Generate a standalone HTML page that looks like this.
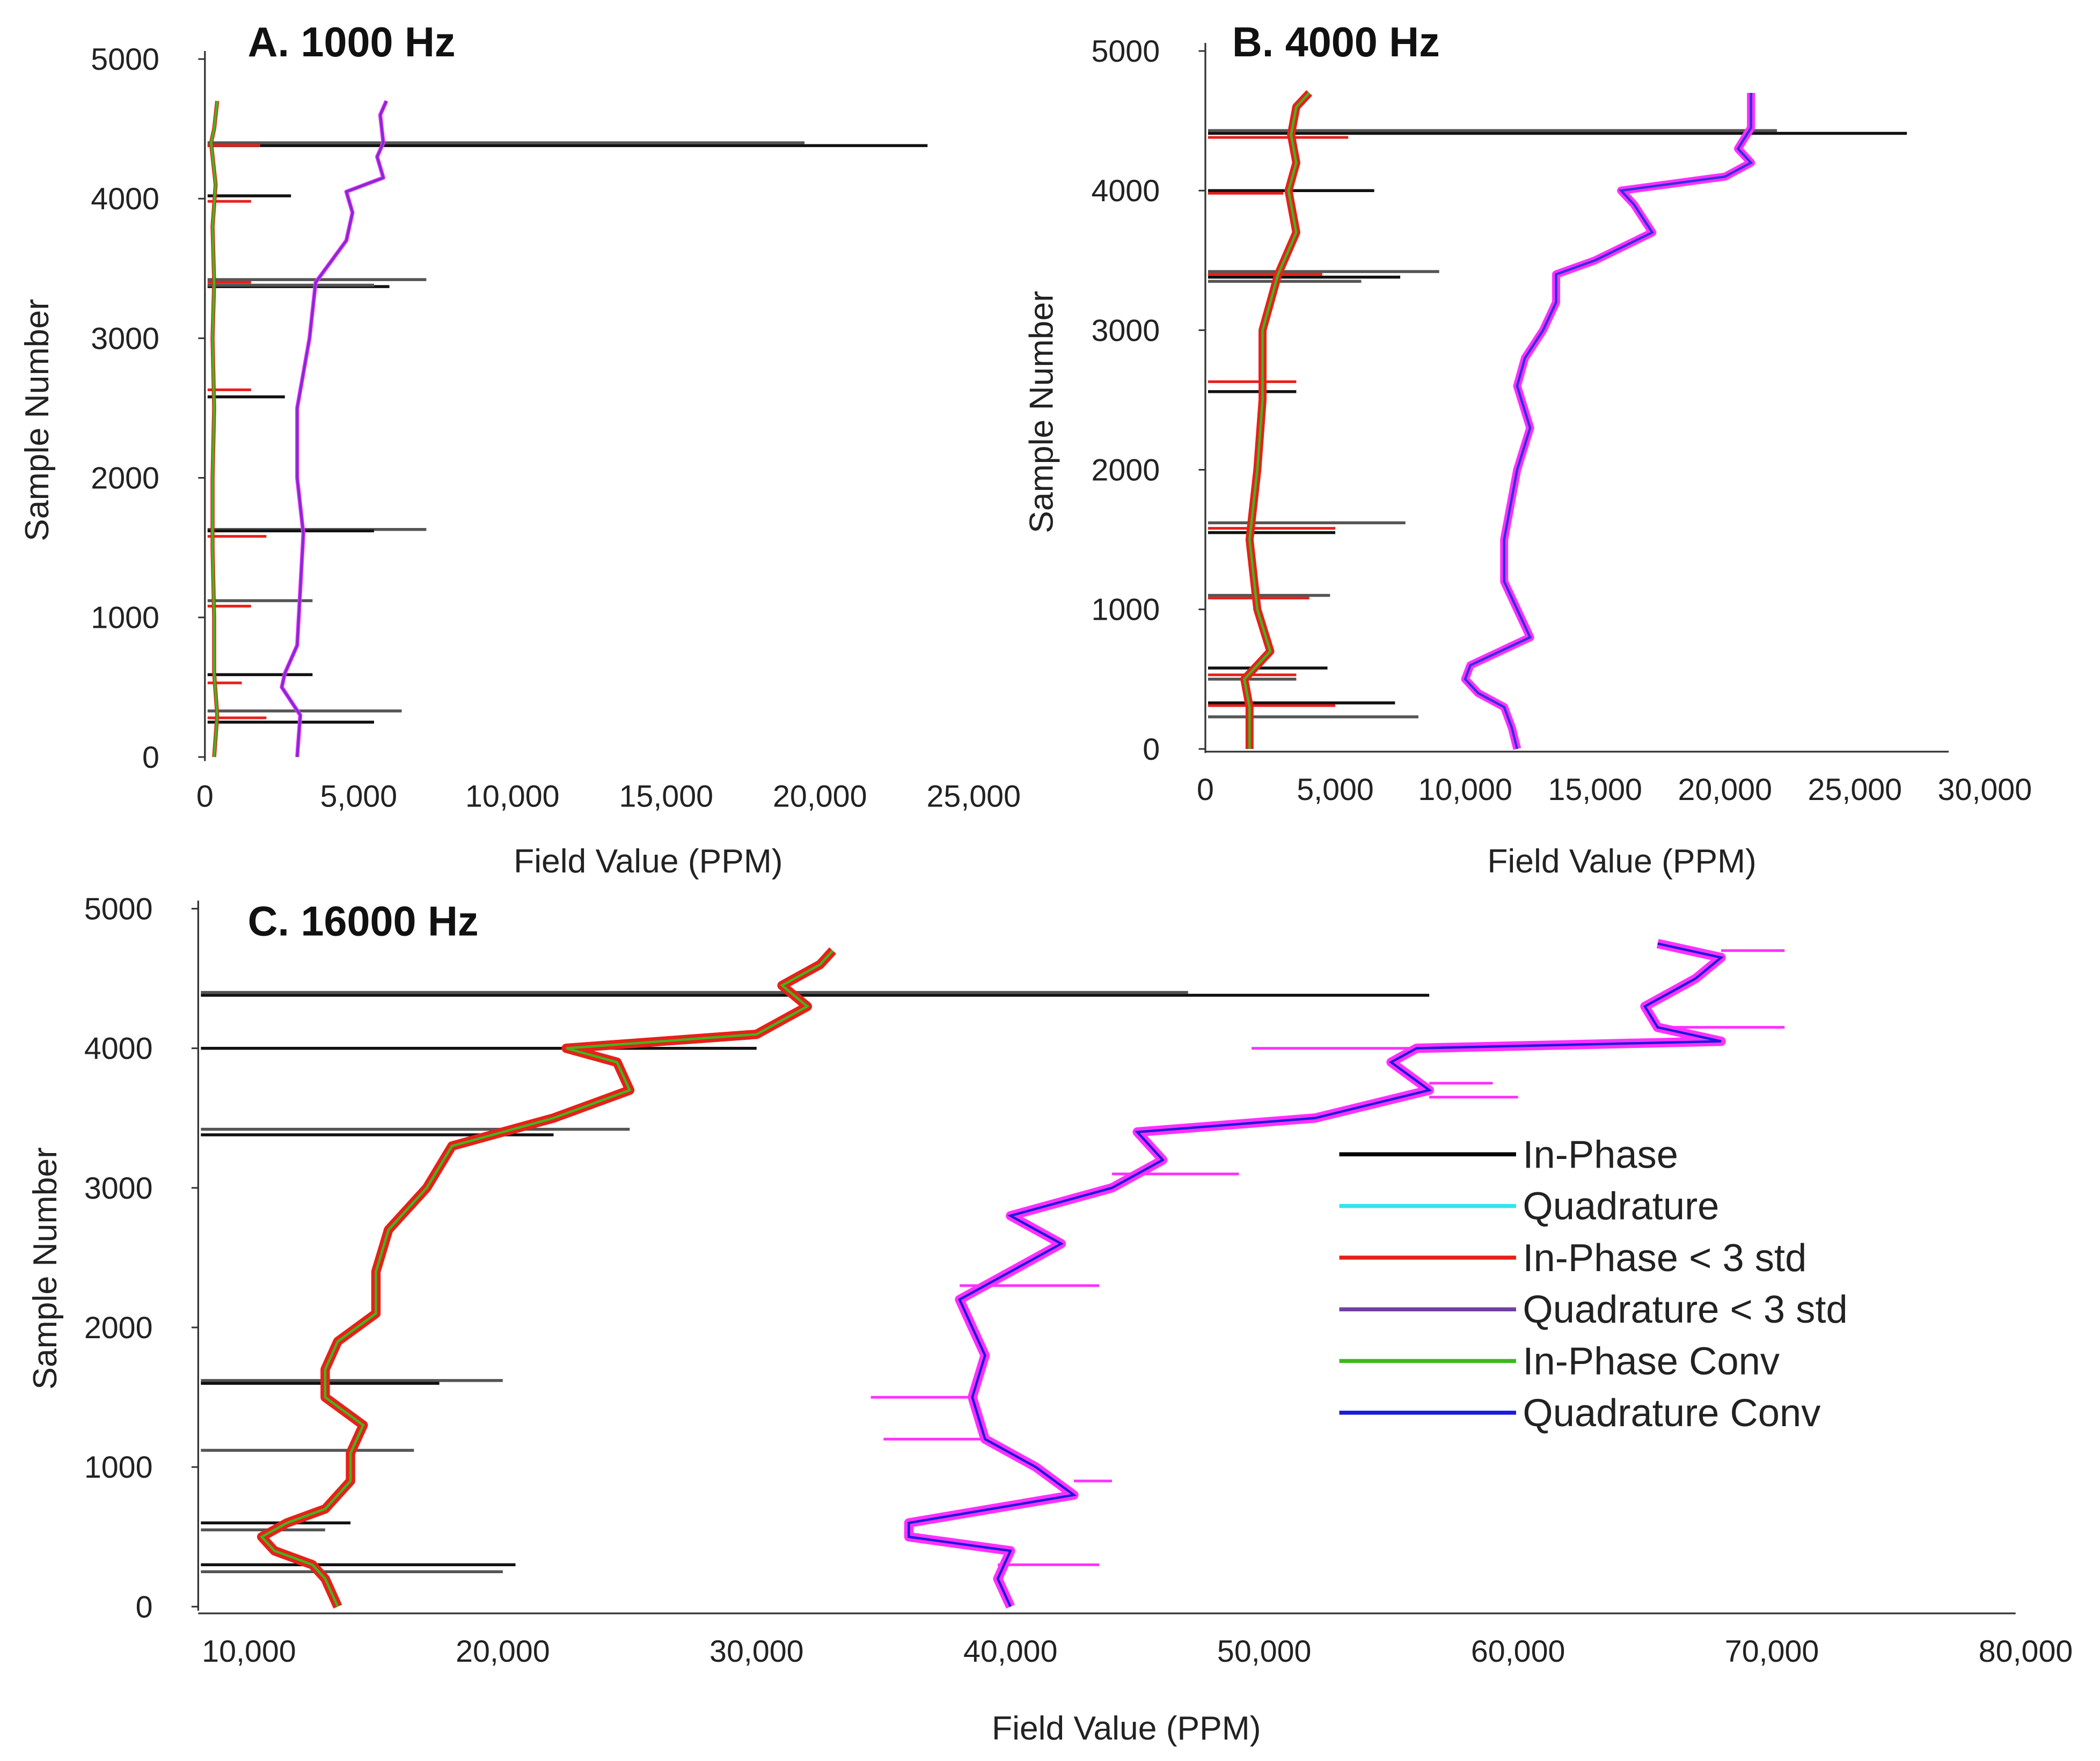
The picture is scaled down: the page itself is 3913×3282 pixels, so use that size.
<!DOCTYPE html>
<html><head><meta charset="utf-8"><style>
html,body{margin:0;padding:0;background:#fff;}
svg{display:block;font-family:"Liberation Sans",sans-serif;}
</style></head><body>
<svg id="chart" width="3913" height="3282" viewBox="0 0 1568 1312" preserveAspectRatio="none" xmlns="http://www.w3.org/2000/svg"></svg>
<script>
// ---- Panel A data (sample number, field value) ----
const aQuadSamples=[0,300,500,600,800,1200,1600,2000,2500,3000,3400,3700,3900,4050,4150,4300,4400,4600,4700];
const aQuadValues=[3000,3100,2500,2600,3000,3100,3200,3000,3000,3400,3600,4600,4800,4600,5800,5600,5800,5700,5900];
const aInSamples=[0,300,600,1000,1500,2000,2500,3000,3400,3800,4100,4400,4500,4700];
const aInValues=[300,400,300,300,250,250,300,250,300,250,350,200,300,400];
const aSpikeSamples=[4380,4400,4020,3420,3370,3380,2580,1630,1620,1120,590,330,250];
const aSpikeValues=[23500,19500,2800,7200,6000,5500,2600,7200,5500,3500,3500,6400,5500];
const aRedSamples=[4400,4000,3420,2650,1600,1100,550,300];
const aRedValues=[1800,1500,1500,1500,2000,1500,1200,2000];
const aXTicks=[0,5000,10000,15000,20000,25000];
// ---- Panel B data ----
const bQuadSamples=[0,150,300,400,500,600,800,1000,1200,1500,1800,2000,2300,2600,2800,3000,3200,3400,3500,3700,3900,4000,4100,4200,4300,4450,4600,4700];
const bQuadValues=[12000,11800,11500,10500,10000,10200,12500,12000,11500,11500,11800,12000,12500,12000,12300,13000,13500,13500,15000,17200,16500,16000,20000,21000,20500,21000,21000,21000];
const bInSamples=[0,300,500,700,1000,1500,2000,2500,3000,3400,3700,4000,4200,4400,4600,4700];
const bInValues=[1700,1700,1500,2500,2000,1700,2000,2200,2200,2800,3500,3200,3500,3300,3500,4000];
const bSpikeSamples=[4410,4430,4000,3420,3380,3350,2560,1620,1550,1100,580,500,330,230];
const bSpikeValues=[27000,22000,6500,9000,7500,6000,3500,7700,5000,4800,4700,3500,7300,8200];
const bRedSamples=[4400,4000,3420,2650,1600,1100,550,330];
const bRedValues=[5500,3000,4500,3500,5000,4000,3500,5000];
const bXTicks=[0,5000,10000,15000,20000,25000,30000];
// ---- Panel C data ----
const cInSamples=[0,200,300,400,500,600,700,900,1100,1300,1500,1700,1900,2100,2400,2700,3000,3300,3500,3700,3900,4000,4100,4300,4450,4600,4700];
const cInValues=[13500,13000,12500,11000,10500,11500,13000,14000,14000,14500,13000,13000,13500,15000,15000,15500,17000,18000,22000,25000,24500,22500,30000,32000,31000,32500,33000];
const cQuadSamples=[0,200,400,500,600,800,1000,1200,1500,1800,2000,2200,2400,2600,2800,3000,3200,3400,3500,3700,3900,4000,4050,4150,4300,4400,4500,4650,4750];
const cQuadValues=[40000,39500,40000,36000,36000,42500,41000,39000,38500,39000,38500,38000,40000,42000,40000,44000,46000,45000,52000,56500,55000,56000,68000,65500,65000,66000,67000,68000,65500];
const cSpikeSamples=[4380,4400,4000,3420,3380,1620,1600,1120,600,550,300,250];
const cSpikeValues=[56500,47000,30000,25000,22000,20000,17500,16500,14000,13000,20500,20000];
const cMagSamples=[4700,4150,4000,3750,3650,3100,2300,1500,1200,900,300];
const cMagValues=[70500,70500,49500,59000,60000,49000,43500,34500,35000,44000,43500];
const cXTicks=[10000,20000,30000,40000,50000,60000,70000,80000];
const yTicks=[0,1000,2000,3000,4000,5000];
const legendLabels=["In-Phase","Quadrature","In-Phase < 3 std","Quadrature < 3 std","In-Phase Conv","Quadrature Conv"];
const legendColors=["#000","#2ee6f0","#e8201a","#7040a0","#3cb81c","#1a1adc"];

const svg=document.getElementById('chart');
const NS='http://www.w3.org/2000/svg';
function el(tag,attrs,parent){const e=document.createElementNS(NS,tag);for(const k in attrs)e.setAttribute(k,attrs[k]);(parent||svg).appendChild(e);return e;}

function panel(p){
  const g=el('g',{});
  
  
  const X=v=>p.x0+(v-p.xmin)*(p.x1-p.x0)/(p.xmax-p.xmin);
  const Y=s=>p.y0-s*(p.y0-p.y5)/5000;
  const ax=el('line',{x1:p.x0,y1:Y(5000)-6,x2:p.x0,y2:p.y0+3,stroke:'#333','stroke-width':1.3},g);
  
  const bx=el('line',{x1:p.x0,y1:p.axY,x2:p.axEnd,y2:p.axY,stroke:'#333','stroke-width':1.3},g);
  
  yTicks.forEach(t=>{
    const tk=el('line',{x1:p.x0-5,y1:Y(t),x2:p.x0,y2:Y(t),stroke:'#333','stroke-width':1.2},g);
    
    const tx=el('text',{x:p.x0-34,y:Y(t)+8,'font-size':23,'text-anchor':'end',fill:'#222'},g);
    tx.textContent=String(t);
    
  });
  p.xticks.forEach(t=>{
    const tx=el('text',{x:X(t),y:p.axY+36,'font-size':23,'text-anchor':'middle',fill:'#222'},g);
    tx.textContent=t===0?'0':t.toLocaleString('en-US');
    
  });
  const pts=(S,V)=>S.map((s,i)=>X(V[i]).toFixed(1)+','+Y(s).toFixed(1)).join(' ');
  p.spS.forEach((s,i)=>{
    const l=el('line',{x1:p.x0+2,y1:Y(s),x2:X(p.spV[i]),y2:Y(s),stroke:i%2?'#555':'#111','stroke-width':2.2},g);
    
  });
  if(p.redS)p.redS.forEach((s,i)=>{
    const l=el('line',{x1:p.x0+2,y1:Y(s)+2,x2:X(p.redV[i]),y2:Y(s)+2,stroke:'#e8201a','stroke-width':2},g);
    
  });
  if(p.magS)p.magS.forEach((s,i)=>{
    const base=p.qV[p.qS.reduce((b,q,j)=>Math.abs(q-s)<Math.abs(p.qS[b]-s)?j:b,0)];
    const l=el('line',{x1:X(base),y1:Y(s),x2:X(p.magV[i]),y2:Y(s),stroke:'#ff30ff','stroke-width':2},g);
    
  });
  let l;
  l=el('polyline',{points:pts(p.iS,p.iV),fill:'none',stroke:'#e8201a','stroke-width':p.nw,'stroke-linejoin':'round'},g);
  
  l=el('polyline',{points:pts(p.iS,p.iV),fill:'none',stroke:'#3cb81c','stroke-width':1.8},g);
  
  l=el('polyline',{points:pts(p.qS,p.qV),fill:'none',stroke:'#ff30ff','stroke-width':p.nw,'stroke-linejoin':'round'},g);
  
  l=el('polyline',{points:pts(p.qS,p.qV),fill:'none',stroke:p.qc,'stroke-width':1.8},g);
  
  const tt=el('text',{x:p.tx,y:p.ty,'font-size':31,'font-weight':'bold',fill:'#111'},g);
  tt.textContent=p.title;
  const yt=el('text',{x:0,y:0,'font-size':25,'text-anchor':'middle',fill:'#222',transform:`translate(${p.ytx},${p.yty}) rotate(-90)`},g);
  yt.textContent='Sample Number';
  const xt=el('text',{x:p.xtx,y:p.xty,'font-size':25,'text-anchor':'middle',fill:'#222'},g);
  xt.textContent='Field Value (PPM)';
}
panel({id:'a',x0:153,xmin:0,x1:727,xmax:25000,y0:564,y5:44,axY:565,axEnd:153,xticks:aXTicks,
  qS:aQuadSamples,qV:aQuadValues,iS:aInSamples,iV:aInValues,spS:aSpikeSamples,spV:aSpikeValues,redS:aRedSamples,redV:aRedValues,
  nw:3,qc:'#7a30d0',title:'A. 1000 Hz',tx:185,ty:42,ytx:36,yty:313,xtx:484,xty:650});
panel({id:'b',x0:900,xmin:0,x1:1482,xmax:30000,y0:558,y5:38,axY:560,axEnd:1455,xticks:bXTicks,
  qS:bQuadSamples,qV:bQuadValues,iS:bInSamples,iV:bInValues,spS:bSpikeSamples,spV:bSpikeValues,redS:bRedSamples,redV:bRedValues,
  nw:6,qc:'#3030e0',title:'B. 4000 Hz',tx:920,ty:42,ytx:786,yty:307,xtx:1211,xty:650});
panel({id:'c',x0:148,xmin:8000,x1:1323,xmax:70000,y0:1197,y5:677,axY:1202,axEnd:1505,xticks:cXTicks,
  qS:cQuadSamples,qV:cQuadValues,iS:cInSamples,iV:cInValues,spS:cSpikeSamples,spV:cSpikeValues,magS:cMagSamples,magV:cMagValues,
  nw:7,qc:'#1a1adc',title:'C. 16000 Hz',tx:185,ty:697,ytx:42,yty:945,xtx:841,xty:1296});
legendLabels.forEach((lab,i)=>{
  const y=860+i*38.5;
  const ln=el('line',{x1:1000,y1:y,x2:1132,y2:y,stroke:legendColors[i],'stroke-width':3});
  
  const t=el('text',{x:1137,y:y+10,'font-size':29,fill:'#222'});
  t.textContent=lab;
});
</script>
</body></html>
